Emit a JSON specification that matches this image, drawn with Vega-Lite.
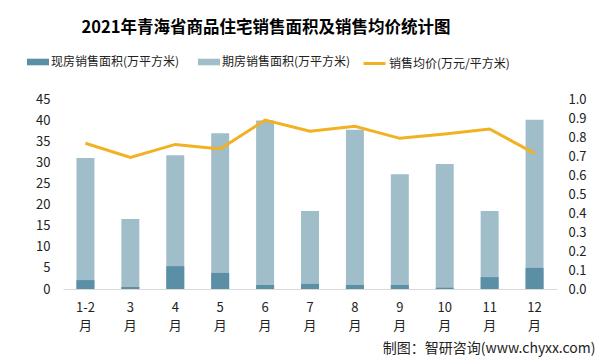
{
  "$schema": "https://vega.github.io/schema/vega-lite/v6.json",
  "width": 494,
  "height": 190,
  "autosize": "none",
  "padding": {"left": 63, "top": 99, "right": 49, "bottom": 75},
  "background": "white",
  "config": {
    "view": {"stroke": null},
    "font": "Noto Sans CJK SC",
    "axis": {"labelFont": "Noto Sans CJK SC", "labelColor": "#222", "labelFontSize": 13, "grid": false, "ticks": false},
    "legend": {"labelFont": "Noto Sans CJK SC", "labelFontSize": 12, "labelColor": "#222"}
  },
  "title": {
    "text": "2021年青海省商品住宅销售面积及销售均价统计图",
    "font": "Noto Sans CJK SC",
    "fontSize": 16.5,
    "fontWeight": "bold",
    "color": "#000",
    "anchor": "middle",
    "dx": -44,
    "offset": 15
  },
  "data": {
    "values": [
      {"month": "1-2月", "xf": 2.1, "qf": 31.0, "price": 0.767},
      {"month": "3月", "xf": 0.5, "qf": 16.6, "price": 0.693},
      {"month": "4月", "xf": 5.4, "qf": 31.7, "price": 0.761},
      {"month": "5月", "xf": 3.8, "qf": 36.9, "price": 0.737},
      {"month": "6月", "xf": 0.95, "qf": 39.9, "price": 0.889},
      {"month": "7月", "xf": 1.2, "qf": 18.5, "price": 0.83},
      {"month": "8月", "xf": 0.95, "qf": 37.7, "price": 0.856},
      {"month": "9月", "xf": 0.95, "qf": 27.2, "price": 0.793},
      {"month": "10月", "xf": 0.3, "qf": 29.6, "price": 0.816},
      {"month": "11月", "xf": 2.8, "qf": 18.5, "price": 0.842},
      {"month": "12月", "xf": 5.0, "qf": 40.1, "price": 0.714}
    ]
  },
  "encoding": {
    "x": {
      "field": "month",
      "type": "nominal",
      "sort": null,
      "scale": {"paddingInner": 0.6, "paddingOuter": 0.3},
      "axis": {
        "labelAngle": 0,
        "labelExpr": "[slice(datum.label, 0, -1), '月']",
        "labelLineHeight": 18,
        "labelPadding": 12,
        "domainColor": "#d9d9d9",
        "domainWidth": 1,
        "title": "制图：智研咨询(www.chyxx.com)",
        "titleFont": "Noto Sans CJK SC",
        "titleFontSize": 14,
        "titleFontWeight": "normal",
        "titleColor": "#222",
        "titleAlign": "right",
        "titleBaseline": "middle",
        "titleX": 532,
        "titleY": 59
      }
    }
  },
  "layer": [
    {
      "transform": [{"fold": ["qf", "xf"], "as": ["series", "value"]}],
      "mark": {"type": "bar"},
      "encoding": {
        "y": {
          "field": "value",
          "type": "quantitative",
          "stack": null,
          "scale": {"domain": [0, 45]},
          "axis": {"values": [0, 5, 10, 15, 20, 25, 30, 35, 40, 45], "domain": false, "labelPadding": 13, "title": null}
        },
        "fill": {
          "field": "series",
          "type": "nominal",
          "scale": {"domain": ["xf", "qf"], "range": ["#5b8fa5", "#a0bdca"]},
          "legend": {
            "orient": "none",
            "direction": "horizontal",
            "legendX": -36,
            "legendY": -48,
            "padding": 0,
            "title": null,
            "symbolType": "M-1,-0.3H1V0.3H-1Z",
            "symbolSize": 484,
            "symbolStrokeWidth": 0,
            "labelOffset": 2,
            "columnPadding": 18,
            "labelExpr": "datum.label == 'xf' ? '现房销售面积(万平方米)' : '期房销售面积(万平方米)'"
          }
        }
      }
    },
    {
      "mark": {"type": "line", "strokeWidth": 3},
      "encoding": {
        "y": {
          "field": "price",
          "type": "quantitative",
          "scale": {"domain": [0, 1]},
          "axis": {"orient": "right", "values": [0, 0.1, 0.2, 0.3, 0.4, 0.5, 0.6, 0.7, 0.8, 0.9, 1.0], "format": ".1f", "domain": false, "labelPadding": 11, "title": null}
        },
        "stroke": {
          "datum": "销售均价(万元/平方米)",
          "type": "nominal",
          "scale": {"range": ["#f2b122"]},
          "legend": {
            "orient": "none",
            "legendX": 299,
            "legendY": -48,
            "padding": 0,
            "title": null,
            "symbolType": "stroke",
            "symbolSize": 484,
            "symbolStrokeWidth": 3,
            "labelOffset": 2
          }
        }
      }
    }
  ],
  "resolve": {"scale": {"y": "independent"}}
}
